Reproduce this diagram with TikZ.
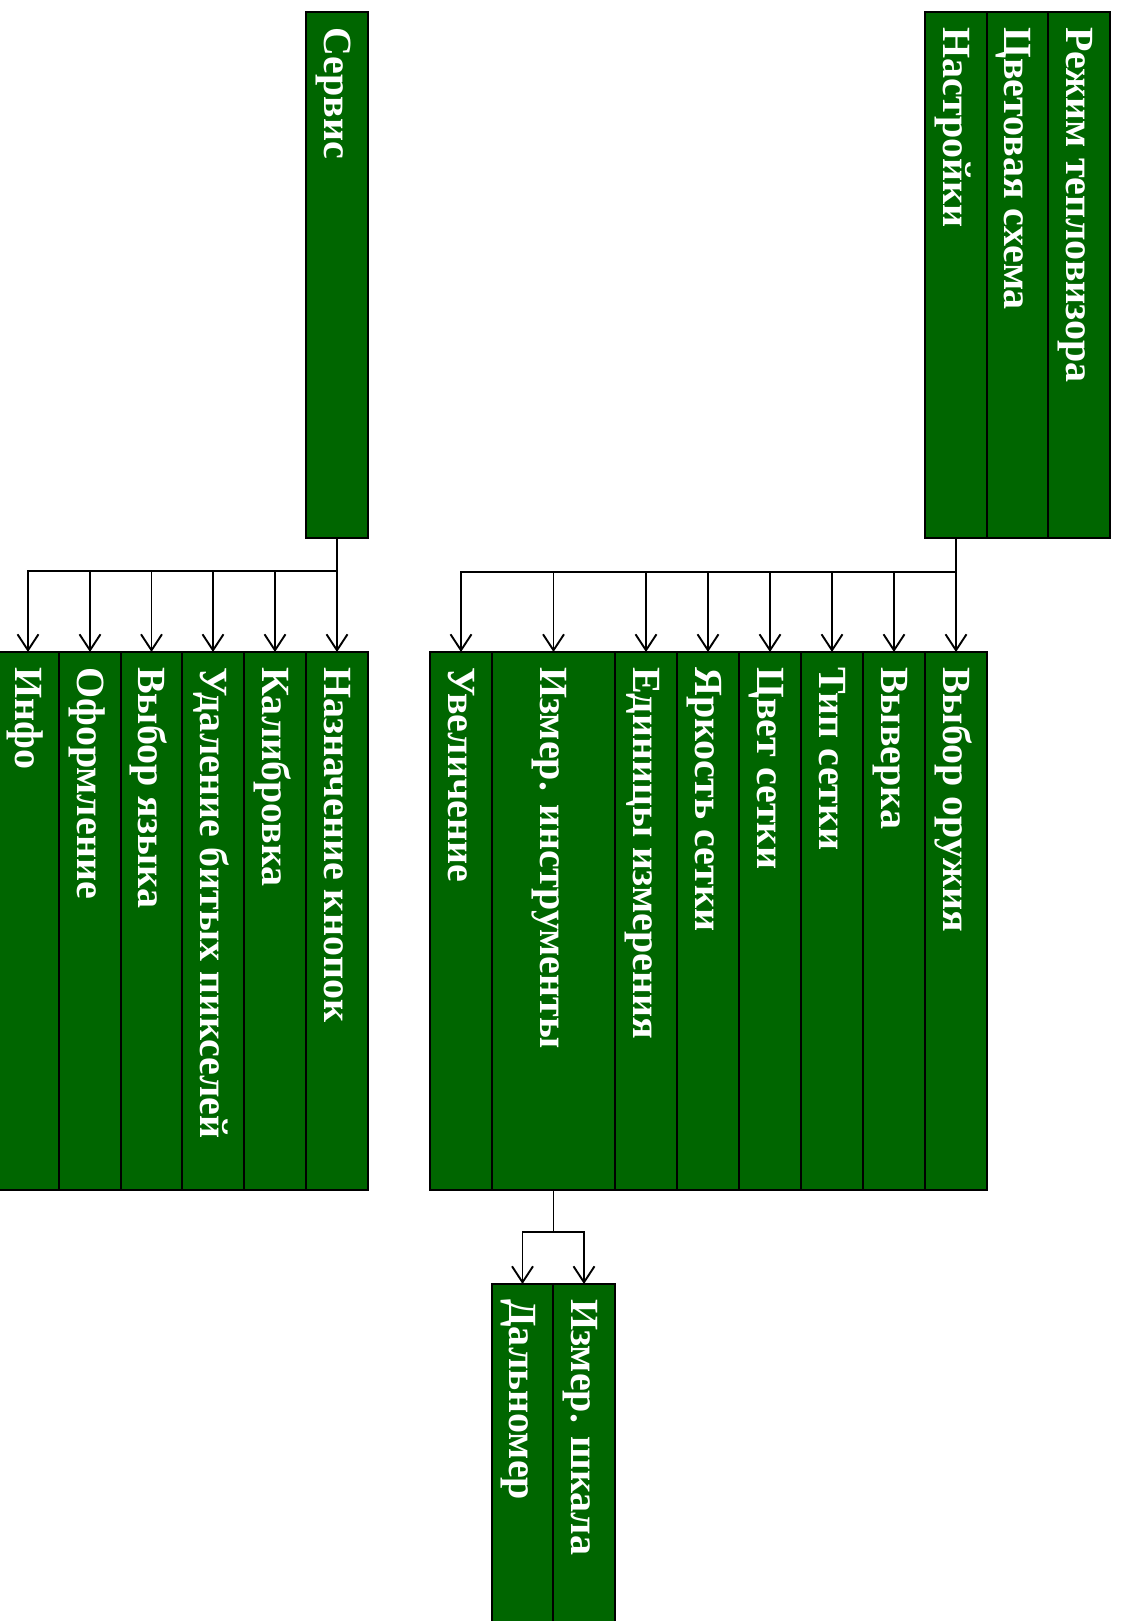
\documentclass[tikz,border=0pt]{standalone}
\usepackage{fontspec}
\setmainfont{Liberation Serif}
\usetikzlibrary{arrows.meta}
\definecolor{boxgreen}{HTML}{006600}
\tikzset{
  box/.style={draw=black, line width=1.5pt, fill=boxgreen, inner sep=0pt, outer sep=0pt, anchor=north west},
  lbl/.style={rotate=-90, anchor=base west, text=white, inner sep=0pt, font=\bfseries\fontsize{40}{48}\selectfont},
  arr/.style={draw=black, line width=1.9pt, -{Straight Barb[length=16pt,width=21pt,line width=1.9pt]}},
  trunk/.style={draw=black, line width=1.9pt}
}
\newcommand\mycol[6]{%
  \node[box, minimum width={#3-#2}, minimum height={#5-#4}] (#1) at (#2,#4) {};
  \node[lbl] (#1-t) at ({(#2+#3)/2-13},{#4+15}) {#6};
}
\begin{document}
\begin{tikzpicture}[x=1pt,y=-1pt]
\useasboundingbox (0,0) rectangle (1121,1621);
\clip (0,0) rectangle (1121,1621);
% top right group
\mycol{rezhim}{1048}{1110}{12}{538}{Режим тепловизора}
\mycol{cvsh}{987}{1048}{12}{538}{Цветовая схема}
\mycol{nast}{925}{987}{12}{538}{Настройки}
% service
\mycol{serv}{306}{368}{12}{538}{Сервис}
% middle group
\mycol{vybor}{925}{987}{652}{1190}{Выбор оружия}
\mycol{vyv}{863}{925}{652}{1190}{Выверка}
\mycol{tip}{801}{863}{652}{1190}{Тип сетки}
\mycol{cvet}{739}{801}{652}{1190}{Цвет сетки}
\mycol{yark}{677}{739}{652}{1190}{Яркость сетки}
\mycol{edin}{615}{677}{652}{1190}{Единицы измерения}
\mycol{izm}{492}{615}{652}{1190}{Измер. инструменты}
\mycol{uvel}{430}{492}{652}{1190}{Увеличение}
% left group
\mycol{nazn}{306}{368}{652}{1190}{Назначение кнопок}
\mycol{kalib}{244}{306}{652}{1190}{Калибровка}
\mycol{udal}{182}{244}{652}{1190}{Удаление битых пикселей}
\mycol{yaz}{121}{182}{652}{1190}{Выбор языка}
\mycol{ofor}{59}{121}{652}{1190}{Оформление}
\mycol{info}{-3}{59}{652}{1190}{Инфо}
% bottom group
\mycol{shk}{553}{615}{1284}{1700}{Измер. шкала}
\mycol{dal}{492}{553}{1284}{1700}{Дальномер}
% bus coordinates
\coordinate (busR) at (0,572);
\coordinate (busL) at (0,571);
\coordinate (busB) at (0,1232);
% connectors right
\foreach \c in {vybor,vyv,tip,cvet,yark,edin,izm,uvel}{
  \draw[arr] (nast.south) -- (nast.south |- busR) -| (\c.north);
}
% connectors left
\foreach \c in {nazn,kalib,udal,yaz,ofor,info}{
  \draw[arr] (serv.south) -- (serv.south |- busL) -| (\c.north);
}
% connectors bottom
\foreach \c in {shk,dal}{
  \draw[arr] (izm.south) -- (izm.south |- busB) -| (\c.north);
}
\end{tikzpicture}
\end{document}
